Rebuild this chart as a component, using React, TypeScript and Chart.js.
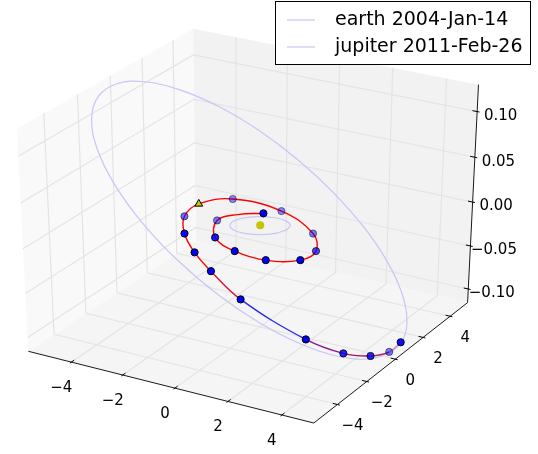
import React, { useEffect, useRef } from "react";
import { Chart, registerables } from "chart.js";

Chart.register(...registerables);

// ---- 3D box limits (data units) ----
const X_BOX = [-5.7, 5.17];
const Y_BOX = [-5.57, 5.32];
const Z_BOX = [-0.116, 0.129];

// ---- ticks ----
const X_TICKS = [-4, -2, 0, 2, 4];
const Y_TICKS = [-4, -2, 0, 2, 4];
const Z_TICKS = [-0.1, -0.05, 0, 0.05, 0.1];
const X_TICK_LABELS = ["\u22124", "\u22122", "0", "2", "4"];
const Y_TICK_LABELS = ["\u22124", "\u22122", "0", "2", "4"];
const Z_TICK_LABELS = ["\u22120.10", "\u22120.05", "0.00", "0.05", "0.10"];

// ---- series labels ----
const EARTH_LABEL = "earth 2004-Jan-14";
const JUPITER_LABEL = "jupiter 2011-Feb-26";

// ---- Earth orbit (AU) ----
const EARTH_X = [1.0035, 0.8615, 0.4938, 0, -0.492, -0.8561, -0.996, -0.8701, -0.5061, 0, 0.508, 0.8757];
const EARTH_Y = [0, 0.4974, 0.8553, 0.9837, 0.8522, 0.4942, 0, -0.5023, -0.8765, -1.0163, -0.8798, -0.5056];
const EARTH_Z = [0.0015, 0, -0.0015, -0.0026, -0.003, -0.0026, -0.0015, 0, 0.0015, 0.0026, 0.003, 0.0026];

// ---- Jupiter orbit (AU) ----
const JUP_X = [4.958, 4.782, 4.295, 3.524, 2.51, 1.312, 0, -1.344, -2.63, -3.763, -4.656, -5.234, -5.446, -5.269, -4.715, -3.83, -2.686, -1.376, 0, 1.343, 2.562, 3.582, 4.345, 4.811];
const JUP_Y = [0, 1.281, 2.48, 3.524, 4.348, 4.897, 5.129, 5.016, 4.555, 3.763, 2.688, 1.403, 0, -1.412, -2.722, -3.83, -4.652, -5.135, -5.253, -5.011, -4.437, -3.582, -2.508, -1.289];
const JUP_Z = [-0.1109, -0.1122, -0.1063, -0.0934, -0.0741, -0.0496, -0.0212, 0.0093, 0.04, 0.0686, 0.093, 0.1113, 0.1218, 0.1236, 0.1167, 0.1015, 0.0793, 0.052, 0.0217, -0.0093, -0.0389, -0.0653, -0.0868, -0.1022];

// ---- trajectory (AU) ----
const TRAJ_X = [-0.42, -1.107, -1.444, -0.768, 0.36, 1.601, 2.566, 2.644, 1.851, 0.004, -1.937, -2.706, -2.566, -1.806, -0.715, 0.146, 1.381, 3.538, 4.36, 4.844, 5.007, 4.824];
const TRAJ_Y = [0.947, 0.422, -0.356, -1.631, -2.292, -2.432, -1.873, -0.97, 0.263, 1.417, 1.522, 0.58, -0.587, -1.852, -3.034, -3.454, -3.676, -3.203, -2.152, -1.16, -0.144, 1.032];
const TRAJ_Z = [0, 0, 0, 0, 0, 0, 0, 0, 0, 0, 0, 0, 0, 0, 0, -0.01, -0.03, -0.065, -0.088, -0.1, -0.107, -0.112];

// trajectory samples carrying a blue dot / the triangle marker
const DOT_INDEX = [0, 2, 3, 4, 5, 6, 7, 8, 9, 10, 12, 13, 14, 15, 16, 17, 18, 19, 20, 21];
const TRIANGLE_INDEX = 11;
const SUN = [0, 0, 0];

// ---- styles ----
const DOT_SHADE = [1, 0.5, 0.9, 1, 1, 1, 0.7, 0.5, 0.45, 0.45, 0.55, 0.95, 1, 1, 1, 1, 0.85, 0.85, 0.5, 0.95];
const SEG_COLORS = [
  "#ff0000", "#ff0000", "#ff0000", "#ff0000", "#ff0000", "#ff0000", "#ff0000",
  "#ff0000", "#ff0000", "#ff0000", "#ff0000", "#ff0000", "#ff0000", "#ff0000",
  "#ff0000", "#d8143c", "#2a2af0", "#8c1890", "#a8105c", "#b0185c", "#d884b8",
];
const ORBIT_COLOR = "#c6c6f7";
const PANE_X = "#f9f9f9";
const PANE_Y = "#f2f2f2";
const PANE_Z = "#f5f5f5";
const GRID_COLOR = "#e4e4e4";
const FONT = "DejaVu Sans";

// ---- camera (matplotlib mplot3d default view) ----
const AZIM = -60;
const ELEV = 30;
const DIST = 10;
const W = 538;
const H = 454;
// projection-plane window shown by the chart
const PX_MIN = -251 / 3364;
const PX_MAX = 287 / 3364;
const PY_MIN = -235 / 2605;
const PY_MAX = 219 / 2605;

const az = (AZIM * Math.PI) / 180;
const el = (ELEV * Math.PI) / 180;
const N = [Math.cos(el) * Math.cos(az), Math.cos(el) * Math.sin(az), Math.sin(el)];
const U0 = [-N[1], N[0], 0];
const UL = Math.hypot(U0[0], U0[1]);
const U = [U0[0] / UL, U0[1] / UL, 0];
const V = [N[1] * U[2] - N[2] * U[1], N[2] * U[0] - N[0] * U[2], N[0] * U[1] - N[1] * U[0]];

function project(x: number, y: number, z: number) {
  const q = [
    (x - X_BOX[0]) / (X_BOX[1] - X_BOX[0]) - 0.5,
    (y - Y_BOX[0]) / (Y_BOX[1] - Y_BOX[0]) - 0.5,
    (z - Z_BOX[0]) / (Z_BOX[1] - Z_BOX[0]) - 0.5,
  ];
  const a = q[0] * U[0] + q[1] * U[1] + q[2] * U[2];
  const b = q[0] * V[0] + q[1] * V[1] + q[2] * V[2];
  const d = q[0] * N[0] + q[1] * N[1] + q[2] * N[2];
  return { x: a / (DIST - d), y: b / (DIST - d) };
}

const path = (pts: number[][]) => pts.map((p) => project(p[0], p[1], p[2]));

function lineDs(data: any[], color: string, width: number, order: number, extra: any = {}) {
  return {
    data,
    showLine: true,
    borderColor: color,
    borderWidth: width,
    pointRadius: 0,
    pointHoverRadius: 0,
    tension: 0,
    fill: false,
    order,
    clip: false,
    ...extra,
  };
}

export default function App() {
  const ref = useRef<HTMLCanvasElement | null>(null);

  useEffect(() => {
    if (!ref.current) return;
    const [x0, x1] = X_BOX;
    const [y0, y1] = Y_BOX;
    const [z0, z1] = Z_BOX;
    const dx = (x1 - x0) / 12.5;
    const dy = (y1 - y0) / 12.5;

    const datasets: any[] = [];

    // panes
    datasets.push(lineDs(path([[x0, y0, z0], [x0, y1, z0], [x0, y1, z1], [x0, y0, z1], [x0, y0, z0]]), "rgba(0,0,0,0)", 0, 100, { fill: "shape", backgroundColor: PANE_X }));
    datasets.push(lineDs(path([[x0, y1, z0], [x1, y1, z0], [x1, y1, z1], [x0, y1, z1], [x0, y1, z0]]), "rgba(0,0,0,0)", 0, 100, { fill: "shape", backgroundColor: PANE_Y }));
    datasets.push(lineDs(path([[x0, y0, z0], [x1, y0, z0], [x1, y1, z0], [x0, y1, z0], [x0, y0, z0]]), "rgba(0,0,0,0)", 0, 100, { fill: "shape", backgroundColor: PANE_Z }));

    // grid lines
    X_TICKS.forEach((t) => datasets.push(lineDs(path([[t, y0, z0], [t, y1, z0], [t, y1, z1]]), GRID_COLOR, 1.2, 90)));
    Y_TICKS.forEach((t) => datasets.push(lineDs(path([[x1, t, z0], [x0, t, z0], [x0, t, z1]]), GRID_COLOR, 1.2, 90)));
    Z_TICKS.forEach((t) => datasets.push(lineDs(path([[x0, y0, t], [x0, y1, t], [x1, y1, t]]), GRID_COLOR, 1.2, 90)));

    // axis lines
    datasets.push(lineDs(path([[x0, y0, z0], [x1, y0, z0]]), "#000", 0.9, 80));
    datasets.push(lineDs(path([[x1, y0, z0], [x1, y1, z0]]), "#000", 0.9, 80));
    datasets.push(lineDs(path([[x1, y1, z0], [x1, y1, z1]]), "#000", 0.9, 80));
    // tick marks
    X_TICKS.forEach((t) => datasets.push(lineDs(path([[t, y0 - 0.1 * dy, z0], [t, y0 + 0.2 * dy, z0]]), "#000", 1, 80)));
    Y_TICKS.forEach((t) => datasets.push(lineDs(path([[x1 + 0.1 * dx, t, z0], [x1 - 0.2 * dx, t, z0]]), "#000", 1, 80)));
    Z_TICKS.forEach((t) => datasets.push(lineDs(path([[x1 + 0.1 * dx, y1, t], [x1 - 0.2 * dx, y1, t]]), "#000", 1, 80)));

    // orbits
    const earth = EARTH_X.map((x, i) => project(x, EARTH_Y[i], EARTH_Z[i]));
    earth.push(earth[0]);
    const jup = JUP_X.map((x, i) => project(x, JUP_Y[i], JUP_Z[i]));
    jup.push(jup[0]);
    datasets.push(lineDs(earth, ORBIT_COLOR, 1.2, 50, { tension: 0.4, label: EARTH_LABEL }));
    datasets.push(lineDs(jup, ORBIT_COLOR, 1.2, 50, { tension: 0.4, label: JUPITER_LABEL }));

    // trajectory
    const traj = TRAJ_X.map((x, i) => project(x, TRAJ_Y[i], TRAJ_Z[i]));
    datasets.push(
      lineDs(traj, "#ff0000", 1.4, 40, {
        tension: 0.4,
        segment: { borderColor: (c: any) => SEG_COLORS[c.p0DataIndex] },
      })
    );

    // sun
    datasets.push({
      data: [project(SUN[0], SUN[1], SUN[2])],
      pointRadius: 4,
      pointBackgroundColor: "#c4c400",
      pointBorderWidth: 0,
      pointBorderColor: "#c4c400",
      order: 35,
      clip: false,
    });

    // dots
    datasets.push({
      data: DOT_INDEX.map((i) => traj[i]),
      pointRadius: 3.6,
      pointBackgroundColor: DOT_SHADE.map((a) => `rgba(0,0,255,${a})`),
      pointBorderColor: DOT_SHADE.map((a) => `rgba(0,0,0,${a})`),
      pointBorderWidth: 1,
      order: 30,
      clip: false,
    });

    // triangle
    datasets.push({
      data: [traj[TRIANGLE_INDEX]],
      pointStyle: "triangle",
      pointRadius: 4.5,
      pointBackgroundColor: "#c8c800",
      pointBorderColor: "#000",
      pointBorderWidth: 1,
      order: 20,
      clip: false,
    });

    const labelsPlugin = {
      id: "axisLabels",
      afterDatasetsDraw(chart: any) {
        const ctx = chart.ctx;
        const sx = chart.scales.x;
        const sy = chart.scales.y;
        const px = (p: { x: number; y: number }) => [sx.getPixelForValue(p.x), sy.getPixelForValue(p.y)];
        ctx.save();
        ctx.fillStyle = "#000";
        ctx.font = `15px "${FONT}"`;
        ctx.textAlign = "center";
        ctx.textBaseline = "middle";
        X_TICKS.forEach((t, i) => {
          const [a, b] = px(project(t, y0, z0));
          ctx.fillText(X_TICK_LABELS[i], a - 10, b + 26);
        });
        Y_TICKS.forEach((t, i) => {
          const [a, b] = px(project(x1, t, z0));
          ctx.fillText(Y_TICK_LABELS[i], a + 15, b + 22);
        });
        Z_TICKS.forEach((t, i) => {
          const [a, b] = px(project(x1, y1, t));
          ctx.fillText(Z_TICK_LABELS[i], a + 23.5, b + 4.5);
        });

        // legend
        ctx.fillStyle = "#fff";
        ctx.fillRect(275.5, 1.5, 255, 63);
        ctx.strokeStyle = "#000";
        ctx.lineWidth = 1;
        ctx.strokeRect(275.5, 1.5, 255, 63);
        ctx.font = `19px "${FONT}"`;
        ctx.textAlign = "left";
        [EARTH_LABEL, JUPITER_LABEL].forEach((lab, i) => {
          const yy = 20 + i * 27;
          ctx.strokeStyle = ORBIT_COLOR;
          ctx.lineWidth = 1.2;
          ctx.beginPath();
          ctx.moveTo(287, yy);
          ctx.lineTo(315, yy);
          ctx.stroke();
          ctx.fillStyle = "#000";
          ctx.fillText(lab, 335, yy);
        });
        ctx.restore();
      },
    };

    const chart = new Chart(ref.current, {
      type: "scatter",
      data: { datasets },
      options: {
        animation: false,
        responsive: false,
        maintainAspectRatio: false,
        devicePixelRatio: 1,
        events: [],
        layout: { padding: 0 },
        plugins: { legend: { display: false }, tooltip: { enabled: false } },
        scales: {
          x: { type: "linear", display: false, min: PX_MIN, max: PX_MAX },
          y: { type: "linear", display: false, min: PY_MIN, max: PY_MAX },
        },
      },
      plugins: [labelsPlugin],
    } as any);
    return () => chart.destroy();
  }, []);

  return (
    <div style={{ position: "fixed", left: 0, top: 0, width: W, height: H, background: "#fff" }}>
      <canvas ref={ref} width={W} height={H} style={{ width: W, height: H, display: "block" }} />
    </div>
  );
}
